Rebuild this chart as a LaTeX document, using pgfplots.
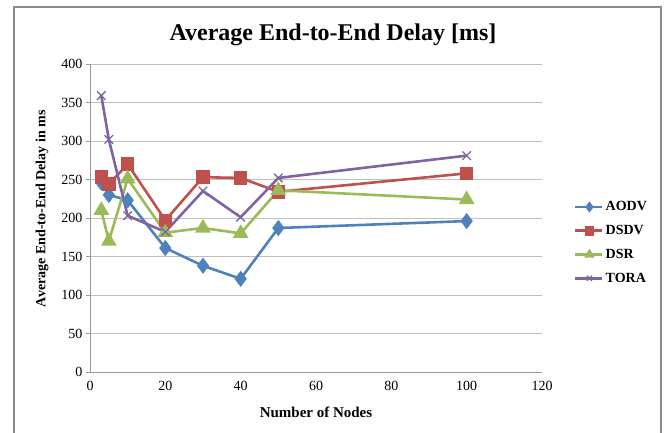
\documentclass[border=0pt]{standalone}
\usepackage{fontspec}
\setmainfont{Liberation Serif}
\usepackage{pgfplots}
\pgfplotsset{compat=1.18}
\definecolor{cAODV}{HTML}{4F81BD}
\definecolor{cDSDV}{HTML}{C0504D}
\definecolor{cDSR}{HTML}{9BBB59}
\definecolor{cTORA}{HTML}{8064A2}
\definecolor{gridc}{HTML}{BFBFBF}
\begin{document}
\begin{tikzpicture}[x=1pt,y=1pt]
\path[use as bounding box] (0,0) rectangle (664,432);
\draw[color=gray!90, line width=1.2pt] (14,-2) -- (14,425) -- (661,425) -- (661,-2);
\node[font=\fontsize{24}{28}\selectfont\bfseries] at (333,397) {Average End-to-End Delay [ms]};
\begin{axis}[
  at={(90pt,60pt)}, anchor=south west,
  scale only axis, width=452pt, height=308pt,
  xmin=0, xmax=120, ymin=0, ymax=400,
  xtick={0,20,...,120}, ytick={0,50,...,400},
  ymajorgrids, grid style={gridc, line width=0.8pt},
  axis x line*=bottom, axis y line*=left,
  axis line style={gridc!80!black, line width=0.8pt},
  tick style={gridc!80!black, line width=0.8pt},
  tick align=outside, major tick length=4pt,
  xtick style={draw=none},
  /pgf/number format/assume math mode=true,
  ticklabel style={font=\fontsize{14}{16}\selectfont},
  xticklabel style={yshift=-2pt},
  xlabel={Number of Nodes}, ylabel={Average End-to-End Delay in ms},
  xlabel style={font=\fontsize{15}{17}\selectfont\bfseries, at={(axis description cs:0.5,-0.13)}, anchor=center},
  ylabel style={font=\fontsize{14}{16}\selectfont\bfseries, at={(axis description cs:-0.106,0.53)}, anchor=center},
  legend style={at={(axis description cs:1.064,0.42)}, anchor=west, draw=none,
    font=\fontsize{14}{16}\selectfont\bfseries, row sep=9pt, fill=none},
  legend cell align=left,
  legend image code/.code={\draw[#1, mark size=3.5pt] (0pt,0pt) -- (14pt,0pt) plot coordinates {(14pt,0pt)} -- (27pt,0pt);},
  every axis plot/.append style={line width=2.6pt},
]
\addplot[cAODV, mark=diamond*, mark size=6pt, mark options={solid, fill=cAODV}] coordinates {
(3,246) (5,230) (10,223) (20,161) (30,138) (40,121) (50,187) (100,196)};
\addplot[cDSDV, mark=square*, mark size=5.5pt, mark options={solid, fill=cDSDV}] coordinates {
(3,253) (5,244) (10,270) (20,197) (30,253) (40,252) (50,234) (100,258)};
\addplot[cDSR, mark=triangle*, mark size=6.5pt, mark options={solid, fill=cDSR}] coordinates {
(3,210) (5,170) (10,251) (20,181) (30,187) (40,180) (50,236) (100,224)};
\addplot[cTORA, mark=x, mark size=6pt, mark options={solid, line width=1.3pt}] coordinates {
(3,359) (5,302) (10,203) (20,182) (30,235) (40,201) (50,252) (100,281)};
\legend{AODV,DSDV,DSR,TORA}
\end{axis}
\end{tikzpicture}
\end{document}
